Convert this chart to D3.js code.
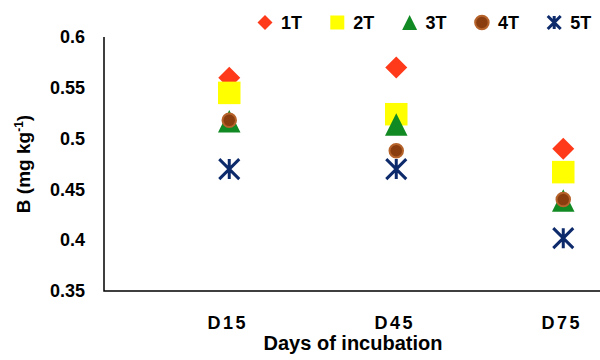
<!DOCTYPE html>
<html>
<head>
<meta charset="utf-8">
<script src="https://cdn.jsdelivr.net/npm/d3@7"></script>
<style>
    body { margin: 0; background: #fff; }
    text { font-family: "Liberation Sans", Arial, sans-serif; font-weight: bold; }
</style>
</head>
<body>
<svg id="drawing_region"></svg>
<script>
const categories = ["D15", "D45", "D75"];
const seriesNames = ["1T", "2T", "3T", "4T", "5T"];
const values1T = [0.560, 0.570, 0.490];
const values2T = [0.545, 0.524, 0.467];
const values3T = [0.517, 0.514, 0.439];
const values4T = [0.518, 0.488, 0.440];
const values5T = [0.470, 0.470, 0.402];
const yTicks = [0.35, 0.4, 0.45, 0.5, 0.55, 0.6];

// custom marker shapes (excel-like)
const symDiamond = {
    draw(ctx, size) {
        const r = Math.sqrt(size) / 2;
        ctx.moveTo(0, -r); ctx.lineTo(r, 0); ctx.lineTo(0, r); ctx.lineTo(-r, 0); ctx.closePath();
    }
};
const symSquare = {
    draw(ctx, size) {
        const r = Math.sqrt(size) / 2;
        ctx.rect(-r, -r, 2 * r, 2 * r);
    }
};
const symTriangle = {
    draw(ctx, size) {
        const r = Math.sqrt(size) / 2;
        ctx.moveTo(0, -r); ctx.lineTo(r, r); ctx.lineTo(-r, r); ctx.closePath();
    }
};
const symCircle = {
    draw(ctx, size) {
        const r = Math.sqrt(size) / 2;
        ctx.moveTo(r, 0); ctx.arc(0, 0, r, 0, 2 * Math.PI);
    }
};
const symStar = {
    draw(ctx, size) {
        const r = Math.sqrt(size) / 2;
        ctx.moveTo(0, -r); ctx.lineTo(0, r);
        ctx.moveTo(-r, -r); ctx.lineTo(r, r);
        ctx.moveTo(r, -r); ctx.lineTo(-r, r);
    }
};

const seriesData = seriesNames.map((name, i) => ({
    name: name,
    values: [values1T, values2T, values3T, values4T, values5T][i]
}));

const markerStyle = {
    "1T": { type: symDiamond, size: 22, legend: 15, fill: "#ff3a1a", stroke: "none", sw: 0 },
    "2T": { type: symSquare, size: 22.5, legend: 14, fill: "#ffff00", stroke: "none", sw: 0 },
    "3T": { type: symTriangle, size: 22.5, legend: 15, fill: "#128a24", stroke: "none", sw: 0 },
    "4T": { type: symCircle, size: 13.5, legend: 13.5, fill: "#8a3e10", stroke: "#b5622b", sw: 2 },
    "5T": { type: symStar, size: 20, legend: 13, fill: "none", stroke: "#0d2a6b", sw: 3 }
};

class ScatterChart {
    constructor(config, data) {
        this.config = config;
        this.data = data;
        this.init();
    }

    init() {
        let self = this;
        const c = self.config;

        self.svg = d3.select(c.parent)
            .attr('width', c.width)
            .attr('height', c.height);

        self.xscale = d3.scaleLinear()
            .domain([-0.75, 2.22])
            .range([c.left, c.right]);

        self.yscale = d3.scaleLinear()
            .domain([0.35, 0.6])
            .range([c.bottom, c.top]);

        self.yaxis = d3.axisLeft(self.yscale)
            .tickValues(yTicks)
            .tickFormat(d => String(+d.toFixed(2)))
            .tickSize(0)
            .tickPadding(19);

        self.xaxis = d3.axisBottom(self.xscale)
            .tickValues([0, 1, 2])
            .tickFormat(i => categories[i])
            .tickSize(0)
            .tickPadding(25);

        self.render();
    }

    render() {
        let self = this;
        const c = self.config;

        const yg = self.svg.append('g')
            .attr('transform', `translate(${c.left},0)`)
            .call(self.yaxis);
        yg.select('.domain').remove();
        yg.selectAll('text')
            .attr('font-size', '18px')
            .attr('fill', '#000');

        const xg = self.svg.append('g')
            .attr('transform', `translate(0,${c.bottom})`)
            .call(self.xaxis);
        xg.select('.domain').remove();
        xg.selectAll('text')
            .attr('font-size', '18px')
            .attr('letter-spacing', '2.5px')
            .attr('dx', '-2px')
            .attr('fill', '#000');

        // axis lines
        self.svg.append('path')
            .attr('d', `M${c.left},${c.top}V${c.bottom}H${c.right}`)
            .attr('fill', 'none')
            .attr('stroke', '#000')
            .attr('stroke-width', 1.5);

        // markers
        self.data.forEach(s => {
            const st = markerStyle[s.name];
            const sym = d3.symbol().type(st.type).size(st.size * st.size);
            self.svg.append('g')
                .selectAll('path')
                .data(s.values)
                .join('path')
                .attr('transform', (d, i) => `translate(${self.xscale(i)},${self.yscale(d)})`)
                .attr('d', sym)
                .attr('fill', st.fill)
                .attr('stroke', st.stroke)
                .attr('stroke-width', st.sw);
        });

        // legend
        const lg = self.svg.append('g')
            .selectAll('g')
            .data(self.data)
            .join('g')
            .attr('transform', (d, i) => `translate(${265 + i * 72.3},22.5)`);
        lg.append('path')
            .attr('d', d => d3.symbol().type(markerStyle[d.name].type).size(markerStyle[d.name].legend ** 2)())
            .attr('fill', d => markerStyle[d.name].fill)
            .attr('stroke', d => markerStyle[d.name].stroke)
            .attr('stroke-width', d => markerStyle[d.name].sw);
        lg.append('text')
            .attr('x', 16)
            .attr('y', 6.5)
            .attr('font-size', '18px')
            .text(d => d.name);

        // axis titles
        self.svg.append('text')
            .attr('x', 353)
            .attr('y', 350)
            .attr('text-anchor', 'middle')
            .attr('font-size', '20px')
            .text('Days of incubation');

        const yl = self.svg.append('text')
            .attr('transform', 'translate(30,164) rotate(-90)')
            .attr('text-anchor', 'middle')
            .attr('font-size', '19px');
        yl.append('tspan').text('B (mg kg');
        yl.append('tspan').attr('font-size', '12px').attr('dy', '-7').text('-1');
        yl.append('tspan').attr('dy', '7').text(')');
    }
}

const chart = new ScatterChart({
    parent: '#drawing_region',
    width: 600,
    height: 360,
    left: 104,
    right: 600,
    top: 37,
    bottom: 291
}, seriesData);
</script>
</body>
</html>
